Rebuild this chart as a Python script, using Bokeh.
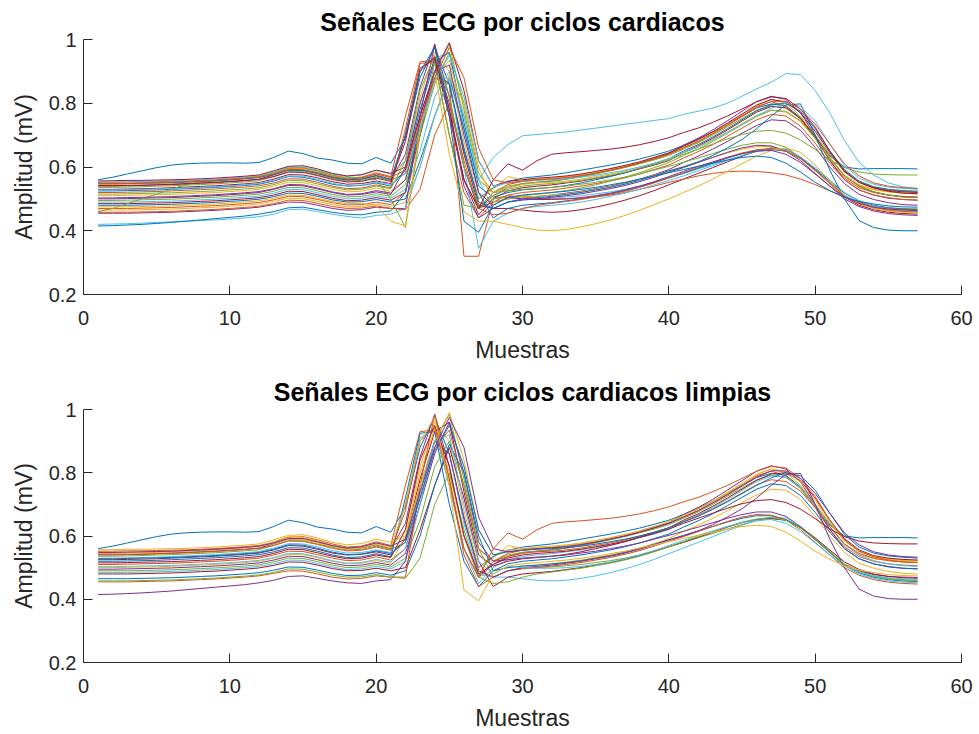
from bokeh.plotting import figure
from bokeh.layouts import column
from bokeh.models import FixedTicker, CustomJSTickFormatter, Range1d
from bokeh.embed import file_html
from bokeh.resources import INLINE

# Sample index within each cardiac cycle
muestras = list(range(1, 58))

# Amplitude of each segmented cycle, in microvolts (samples 1..57)
ciclo_01 = [560,568,578,588,598,606,610,612,613,613,612,614, 630,650,642,628,622,612,610,630,612, 690,880,975,860,650,500,535, 555,565,570,575,582,590,598,606,615,625,637,650, 668,688,710,735,760,785,798,792,755,695, 635,600,594,595,595,595,594]
ciclo_02 = [552,552,553,553,554,555,556,558,560,563,566,570, 580,596,598,588,575,565,568,582,570, 760,930,935,760,560,470,520, 545,555,560,562,566,572,580,590,600,612,625,640, 660,680,705,732,760,790,805,790,750,690, 620,565,535,520,512,508,506]
ciclo_03 = [545,545,546,547,548,550,552,554,556,559,563,568, 582,598,596,584,570,562,566,578,566, 620,820,960,900,680,500,530, 570,560,562,565,570,576,585,594,604,616,630,645, 665,685,708,735,765,795,812,800,760,700, 628,572,542,528,522,518,516]
ciclo_04 = [540,540,541,542,544,546,548,550,552,555,558,562, 575,590,590,580,568,560,562,572,560, 640,850,985,820,600,470,510, 535,548,552,556,562,570,580,590,600,612,626,642, 668,690,716,745,775,805,822,812,770,700, 620,560,528,512,502,498,496]
ciclo_05 = [536,536,537,538,540,541,543,545,547,550,553,557, 570,585,585,575,564,556,558,568,558, 580,760,900,985,780,560,520, 540,548,552,556,562,570,578,588,598,610,622,636, 656,676,700,726,752,778,792,785,752,700, 640,585,552,536,528,524,522]
ciclo_06 = [552,553,554,555,556,557,558,560,562,565,568,572, 584,600,600,590,578,570,575,590,578, 620,800,940,960,720,560,630, 670,698,702,706,710,716,722,728,734,740,746,752, 765,775,785,800,822,845,866,893,890,840, 770,683,615,575,550,538,532]
ciclo_07 = [530,530,531,532,533,535,537,539,541,544,547,551, 562,576,575,566,554,546,548,556,548, 700,910,940,760,560,450,500, 525,535,540,544,550,556,564,572,582,594,606,620, 645,666,690,716,744,772,790,786,752,695, 630,572,540,522,512,506,504]
ciclo_08 = [525,525,526,527,528,530,532,534,536,539,542,546, 556,570,568,558,546,540,542,550,540, 590,780,930,960,740,540,505, 520,528,532,536,542,550,560,570,582,596,610,626, 650,670,694,720,748,776,796,800,775,720, 650,592,556,538,530,526,524]
ciclo_09 = [520,520,521,522,523,525,527,529,531,534,537,541, 550,563,562,552,540,532,534,544,534, 720,925,930,700,520,440,490, 512,520,524,528,534,540,548,556,566,578,592,606, 628,648,670,696,722,748,765,760,728,675, 612,560,528,512,504,498,496]
ciclo_10 = [510,510,511,512,513,514,516,518,520,523,526,530, 540,552,551,541,530,522,524,534,524, 560,720,880,935,760,560,520, 535,545,550,552,556,562,570,578,588,600,612,626, 645,664,686,710,736,762,778,772,742,690, 630,575,545,530,522,518,516]
ciclo_11 = [500,500,501,502,503,504,506,508,510,513,516,520, 530,542,541,531,520,512,514,522,514, 600,800,940,800,600,470,490, 500,505,508,512,518,524,532,540,550,562,576,592, 614,634,656,680,706,730,748,745,715,662, 600,548,514,498,488,482,480]
ciclo_12 = [495,495,496,497,498,499,501,503,505,508,511,515, 524,536,535,525,514,506,508,516,508, 545,700,860,960,800,580,520, 525,530,533,536,540,546,552,560,568,578,590,602, 615,628,642,656,668,676,676,662,630,590, 548,510,490,478,472,470,469]
ciclo_13 = [490,490,490,491,492,493,495,497,499,502,505,509, 518,530,529,519,508,500,502,510,502, 530,650,820,900,760,560,470, 490,498,500,502,506,510,516,522,530,540,552,566, 580,594,608,622,636,648,654,650,628,592, 552,512,488,474,466,462,460]
ciclo_14 = [485,485,485,486,487,488,490,492,494,497,500,504, 512,524,523,513,502,494,496,504,496, 520,700,900,860,640,480,470, 470,465,460,458,460,466,474,484,496,510,526,544, 562,580,598,616,634,650,660,656,630,590, 548,506,480,466,458,454,452]
ciclo_15 = [480,480,480,481,482,483,485,487,489,492,495,499, 507,518,517,508,497,490,491,498,490, 500,620,760,880,720,520,440, 470,480,484,488,494,500,508,516,526,538,552,566, 580,596,612,628,642,652,656,650,628,594, 556,518,494,480,472,468,466]
ciclo_16 = [470,470,470,471,472,473,475,477,479,482,485,489, 497,508,507,498,488,481,482,490,482, 520,720,880,860,320,320,500, 510,505,502,500,500,502,506,512,520,530,540,552, 562,572,580,585,587,586,582,575,562,545, 525,505,490,478,470,466,464]
ciclo_17 = [465,465,465,466,467,468,470,472,474,477,480,484, 492,502,501,492,482,475,476,484,476, 490,600,760,890,800,600,490, 500,505,508,512,516,522,530,538,548,560,574,588, 602,616,630,644,656,664,664,652,626,588, 548,508,484,470,462,458,456]
ciclo_18 = [455,455,455,456,457,458,460,462,464,467,470,474, 482,490,489,480,470,464,466,474,470, 470,760,985,780,540,440,470, 490,496,500,505,510,516,524,532,542,554,568,584, 598,614,630,646,660,668,666,650,620,580, 540,500,476,462,454,450,448]
ciclo_19 = [460,470,485,500,515,530,545,552,556,560,564,570, 582,596,597,587,574,566,568,560,500, 410,700,930,700,480,470,500, 505,510,515,520,526,534,544,556,568,582,598,614, 636,656,680,706,732,758,778,775,745,690, 625,572,540,522,512,506,505]
ciclo_20 = [420,421,422,424,426,428,430,432,434,437,440,444, 452,466,468,460,452,445,440,448,452, 470,600,760,880,600,345,430, 455,470,476,480,484,490,498,508,518,530,544,558, 572,588,604,620,636,650,658,654,632,598, 560,520,494,478,468,462,458]
ciclo_21 = [556,557,558,558,559,560,561,563,565,568,571,575, 588,602,604,594,580,572,576,590,580, 600,760,900,990,840,620,540, 555,560,565,568,572,578,586,595,605,616,630,644, 665,686,710,738,766,794,812,804,770,712, 645,585,552,535,526,522,520]
ciclo_22 = [415,416,418,420,423,426,430,434,438,442,446,452, 460,472,474,466,458,452,450,458,462, 520,740,900,860,660,490,470, 490,500,504,508,514,520,528,536,546,558,572,588, 600,616,636,660,686,720,760,795,798,700, 590,500,432,410,402,400,400]
ciclo_23 = [458,458,458,459,460,461,463,465,467,470,473,477, 485,496,495,486,476,470,471,478,470, 466,530,700,800,620,470,450, 455,470,480,486,492,498,506,514,524,536,550,566, 582,598,614,630,644,654,658,650,626,590, 550,510,486,472,464,460,458]
ciclo_24 = [475,475,475,476,477,478,480,482,484,487,490,494, 502,512,511,502,492,485,486,480,430, 415,720,900,640,460,430,430, 420,410,402,400,404,412,422,434,448,464,482,500, 520,540,562,586,610,634,652,660,646,606, 556,512,486,470,462,458,456]
ciclo_25 = [503,503,504,505,506,507,509,511,513,516,519,523, 532,545,544,534,522,514,516,526,518, 560,740,900,920,700,520,480, 505,500,498,498,500,504,510,518,528,540,554,570, 586,602,616,630,642,650,652,640,614,578, 540,506,486,474,468,465,463]
ciclo_26 = [515,515,516,517,518,519,521,523,525,528,531,535, 545,558,557,547,536,528,530,540,532, 620,840,950,820,600,480,510, 530,540,545,548,552,558,566,574,584,596,608,622, 640,656,672,688,702,712,715,706,685,655, 622,598,584,578,576,575,575]
ciclo_27 = [528,528,529,530,531,532,534,536,538,541,544,548, 558,572,571,561,549,541,543,553,545, 580,720,870,950,820,620,540, 550,555,558,560,563,568,574,582,590,600,612,626, 645,662,684,708,734,760,784,800,790,745, 672,605,565,546,537,533,530]
ciclo_28 = [542,542,542,543,544,545,547,549,551,554,557,561, 570,584,583,573,561,553,555,565,555, 680,900,945,780,560,470,560, 610,590,620,640,645,648,652,656,662,670,680,692, 708,722,740,760,782,805,820,815,782,725, 650,588,552,534,524,518,516]
ciclo_29 = [548,548,548,549,550,551,553,555,557,560,563,567, 576,590,589,579,567,559,562,574,562, 700,900,975,760,430,395,480, 505,512,516,520,524,530,536,544,552,562,572,582, 592,602,612,622,630,634,630,612,584,552, 526,506,492,484,478,475,474]
ciclo_30 = [548,548,549,550,551,552,554,556,558,561,564,568, 578,592,592,582,570,562,566,578,568, 590,740,880,975,880,660,560, 550,556,560,563,567,573,581,590,600,612,626,640, 660,680,704,730,758,786,806,806,782,735, 672,610,572,550,540,535,533]

ciclos = [ciclo_01, ciclo_02, ciclo_03, ciclo_04, ciclo_05, ciclo_06, ciclo_07, ciclo_08,
          ciclo_09, ciclo_10, ciclo_11, ciclo_12, ciclo_13, ciclo_14, ciclo_15, ciclo_16,
          ciclo_17, ciclo_18, ciclo_19, ciclo_20, ciclo_21, ciclo_22, ciclo_23, ciclo_24,
          ciclo_25, ciclo_26, ciclo_27, ciclo_28, ciclo_29, ciclo_30]

# Cycles that remain after discarding the anomalous ones (1-based)
ciclos_limpios = [1, 2, 3, 4, 5, 7, 8, 9, 10, 11, 12, 13, 14, 15, 17, 18,
                  21, 22, 23, 25, 26, 27, 28, 29, 30]

x_ticks = [0, 10, 20, 30, 40, 50, 60]
y_ticks = [0.2, 0.4, 0.6, 0.8, 1.0]

COLORES = ["#0072BD", "#D95319", "#EDB120", "#7E2F8E", "#77AC30", "#4DBEEE", "#A2142F"]
GRIS = "#262626"
FUENTE = "Liberation Sans"


def panel(titulo, senales, borde_sup, borde_inf):
    p = figure(width=979, height=367,
               x_range=Range1d(0, 60), y_range=Range1d(0.2, 1.0),
               output_backend="svg", toolbar_location=None,
               min_border_left=83, min_border_right=18,
               min_border_top=borde_sup, min_border_bottom=borde_inf)
    p.title.text = titulo
    p.title.align = "center"
    p.title.text_font = FUENTE
    p.title.text_font_size = "25px"
    p.title.text_font_style = "bold"
    p.title.text_color = "#000000"
    p.title.standoff = 8

    for i, s in enumerate(senales):
        p.line(muestras, [v / 1000 for v in s], line_color=COLORES[i % len(COLORES)], line_width=1)

    p.outline_line_color = None
    p.grid.visible = False
    p.background_fill_color = "white"
    p.border_fill_color = "white"

    p.xaxis.ticker = FixedTicker(ticks=x_ticks)
    p.yaxis.ticker = FixedTicker(ticks=y_ticks)
    p.yaxis.formatter = CustomJSTickFormatter(code="return Number(tick.toFixed(2)).toString();")
    p.xaxis.axis_label = "Muestras"
    p.yaxis.axis_label = "Amplitud (mV)"
    for ax in (p.xaxis, p.yaxis):
        ax.axis_line_color = GRIS
        ax.axis_line_width = 1
        ax.major_tick_line_color = GRIS
        ax.major_tick_in = 9
        ax.major_tick_out = 0
        ax.minor_tick_line_color = None
        ax.major_label_text_font = FUENTE
        ax.major_label_text_font_size = "20px"
        ax.major_label_text_color = GRIS
        ax.axis_label_text_font = FUENTE
        ax.axis_label_text_font_size = "23px"
        ax.axis_label_text_font_style = "normal"
        ax.axis_label_text_color = GRIS
    p.xaxis.major_label_standoff = 16
    p.yaxis.major_label_standoff = 7
    p.xaxis.axis_label_standoff = 9
    p.yaxis.axis_label_standoff = 9
    return p


arriba = panel("Señales ECG por ciclos cardiacos", ciclos, 39, 73)
abajo = panel("Señales ECG por ciclos cardiacos limpias",
              [ciclos[k - 1] for k in ciclos_limpios], 42, 72)

layout = column(arriba, abajo, spacing=0)
open("out.html", "w").write(file_html(layout, INLINE))
